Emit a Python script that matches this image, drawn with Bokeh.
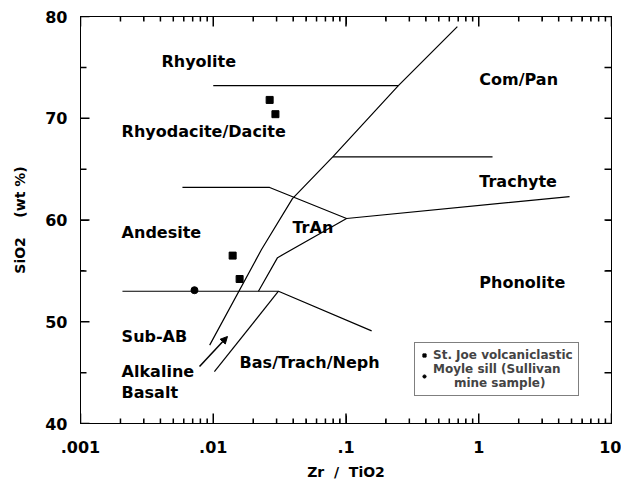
from bokeh.plotting import figure
from bokeh.models import (LogAxis, LinearAxis, LogTicker, SingleIntervalTicker,
                          CustomJSTickFormatter, Legend, LegendItem, Arrow,
                          NormalHead, ColumnDataSource, Range1d)
from bokeh.embed import file_html
from bokeh.resources import INLINE
from bokeh.core.properties import value

# ---- field boundaries (Zr/TiO2, SiO2 wt%) ----
rhy_x = [0.0100, 0.248]
rhy_y = [73.2, 73.2]
diag_x = [0.69, 0.248, 0.0795, 0.0395, 0.0231, 0.0094]
diag_y = [79.0, 73.2, 66.2, 62.1, 57.1, 47.7]
and_x = [0.00586, 0.0266, 0.101, 4.83]
and_y = [63.2, 63.2, 60.15, 62.3]
tra_x = [0.0795, 1.27]
tra_y = [66.2, 66.2]
tran_x = [0.101, 0.0305, 0.0219]
tran_y = [60.15, 56.3, 53.0]
bas_x = [0.00207, 0.031, 0.156]
bas_y = [53.0, 53.0, 49.1]
neph_x = [0.031, 0.0102]
neph_y = [53.0, 45.1]
arrow_x = [0.00788, 0.0128]
arrow_y = [45.6, 48.55]

# ---- samples ----
stjoe_x = [0.0266, 0.0294, 0.0140, 0.0158]
stjoe_y = [71.8, 70.4, 56.5, 54.2]
moyle_x = [0.00722]
moyle_y = [53.1]

# ---- field names ----
field_names = ["Rhyolite", "Rhyodacite/Dacite", "Andesite", "TrAn", "Com/Pan",
               "Trachyte", "Phonolite", "Sub-AB", "Alkaline", "Basalt",
               "Bas/Trach/Neph"]
field_x = [0.00407, 0.00204, 0.00204, 0.0395, 1.01, 1.01, 1.01, 0.00204,
           0.00204, 0.00204, 0.0158]
field_y = [75.6, 68.7, 58.8, 59.3, 73.8, 63.8, 53.9, 48.55, 45.1, 43.0, 46.0]

# ---- axis ticks ----
x_major = [0.001, 0.01, 0.1, 1, 10]
x_decades = [0.001, 0.01, 0.1, 1]
y_major = [40, 50, 60, 70, 80]
y_minor = [45, 55, 65, 75]

FONT = "DejaVu Sans"
XMIN, XMAX, YMIN, YMAX = 0.001, 10, 40, 80

p = figure(x_axis_type="log", x_range=Range1d(XMIN, XMAX), y_range=Range1d(YMIN, YMAX),
           frame_width=531, frame_height=407, output_backend="svg",
           toolbar_location=None, min_border_left=80, min_border_top=16,
           min_border_right=10, min_border_bottom=50)
p.grid.visible = False
p.outline_line_color = "black"
p.background_fill_color = None
p.border_fill_color = "white"

fmt = CustomJSTickFormatter(code="""
if (tick >= 1) { return Math.round(tick).toString(); }
let s = parseFloat(tick.toPrecision(6)).toString();
return s.replace(/^0\\./, '.');
""")

xa = p.xaxis[0]
xa.ticker = LogTicker(num_minor_ticks=10)
xa.formatter = fmt
ya = p.yaxis[0]
ya.ticker = SingleIntervalTicker(interval=10, num_minor_ticks=2)

for ax in (xa, ya):
    ax.major_tick_in = 8
    ax.major_tick_out = 0
    ax.minor_tick_in = 4
    ax.minor_tick_out = 0
    ax.major_tick_line_color = "black"
    ax.minor_tick_line_color = "black"
    ax.axis_line_color = "black"
    ax.major_label_text_font = FONT
    ax.major_label_text_font_style = "bold"
    ax.major_label_text_font_size = "16px"
    ax.major_label_text_color = "black"
    ax.axis_label_text_font = FONT
    ax.axis_label_text_font_style = "bold"
    ax.axis_label_text_font_size = "14px"
    ax.axis_label_text_color = "black"
xa.major_label_standoff = 17
ya.major_label_standoff = 13
xa.axis_label = "Zr\u00a0\u00a0/\u00a0\u00a0TiO2"
ya.axis_label = "SiO2\u00a0\u00a0\u00a0\u00a0(wt %)"
xa.axis_label_standoff = 8
ya.axis_label_standoff = 14

blank = CustomJSTickFormatter(code="return '';")
top = LogAxis(ticker=LogTicker(num_minor_ticks=10), formatter=blank, major_tick_in=8,
              major_tick_out=0, minor_tick_in=4, minor_tick_out=0,
              major_tick_line_color="black", minor_tick_line_color="black",
              major_label_standoff=0, major_label_text_font_size="4px")
right = LinearAxis(ticker=SingleIntervalTicker(interval=5, num_minor_ticks=1), formatter=blank,
                   major_tick_in=6, major_tick_out=0, minor_tick_in=0, minor_tick_out=0,
                   major_tick_line_color="black",
                   major_label_standoff=0, major_label_text_font_size="4px")
p.add_layout(top, "above")
p.add_layout(right, "right")

# inward tick marks drawn at the tick values (lengths as fractions of the frame)
px_y = (YMAX - YMIN) / 407.0          # data units per pixel, vertical
px_x = 4.0 / 531.0                    # decades per pixel, horizontal
x_minor = [d * m for d in x_decades for m in (2, 3, 4, 5, 6, 7, 8, 9)]
tick_x0, tick_x1, tick_y0, tick_y1 = [], [], [], []
for xv in x_major:
    tick_x0 += [xv, xv]; tick_x1 += [xv, xv]
    tick_y0 += [YMIN, YMAX]; tick_y1 += [YMIN + 10 * px_y, YMAX - 10 * px_y]
for xv in x_minor:
    tick_x0 += [xv, xv]; tick_x1 += [xv, xv]
    tick_y0 += [YMIN, YMAX]; tick_y1 += [YMIN + 5 * px_y, YMAX - 5 * px_y]
for yv in y_major + y_minor:
    ln = 9 if yv in y_major else 6
    tick_x0 += [XMIN, XMAX]
    tick_x1 += [XMIN * 10 ** (ln * px_x), XMAX / 10 ** (7 * px_x)]
    tick_y0 += [yv, yv]; tick_y1 += [yv, yv]
p.segment(tick_x0, tick_y0, tick_x1, tick_y1, line_color="black", line_width=1.5)

lw = 1.2
for xs, ys in [(rhy_x, rhy_y), (diag_x, diag_y), (and_x, and_y), (tra_x, tra_y),
               (tran_x, tran_y), (bas_x, bas_y), (neph_x, neph_y)]:
    p.line(xs, ys, line_color="black", line_width=lw)

p.add_layout(Arrow(x_start=arrow_x[0], y_start=arrow_y[0], x_end=arrow_x[1], y_end=arrow_y[1],
                   line_width=1.5, line_color="black",
                   end=NormalHead(size=7, fill_color="black", line_color="black")))

src = ColumnDataSource(dict(x=field_x, y=field_y, t=field_names))
p.text(x="x", y="y", text="t", source=src, text_font=value(FONT), text_font_style="bold",
       text_font_size="16px", text_align="left", text_baseline="middle", text_color="black")

r1 = p.scatter(stjoe_x, stjoe_y, marker="square", size=7, fill_color="black", line_color="black")
r2 = p.scatter(moyle_x, moyle_y, marker="circle", size=7, fill_color="black", line_color="black")

leg = Legend(items=[LegendItem(label="St. Joe volcaniclastic", renderers=[r1]),
                    LegendItem(label="Moyle sill (Sullivan\n     mine sample)", renderers=[r2])],
             location=(334, 27), label_text_font=FONT, label_text_font_style="bold",
             label_text_font_size="12px", label_height=11, glyph_width=8, glyph_height=8,
             spacing=0, padding=5, margin=0, border_line_color="black", border_line_width=1,
             label_standoff=5, background_fill_alpha=1)
p.add_layout(leg, "center")

open("out.html", "w").write(file_html(p, INLINE))
